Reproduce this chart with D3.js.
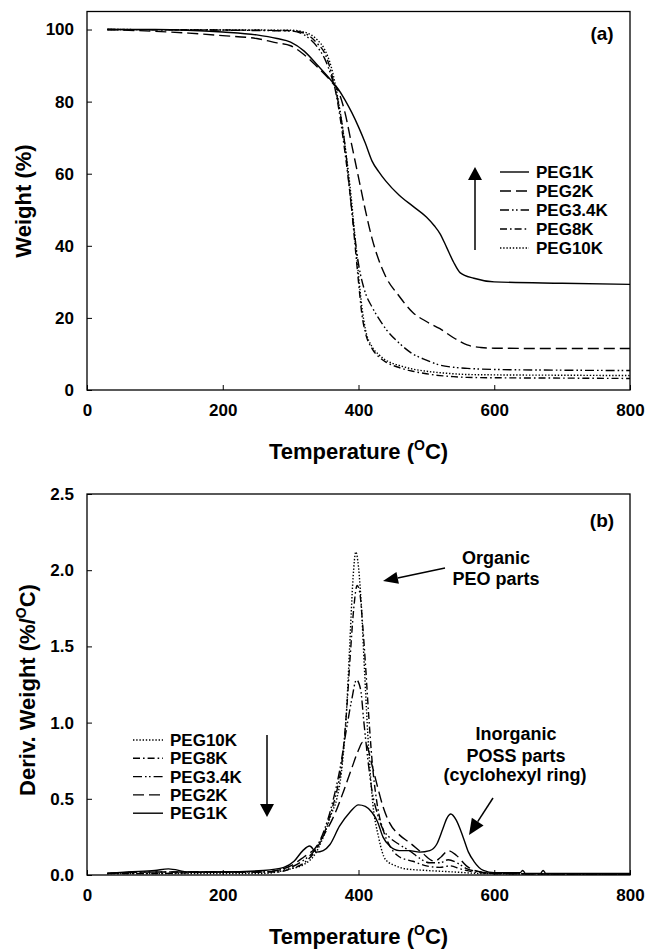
<!DOCTYPE html>
<html>
<head>
<meta charset="utf-8">
<script src="https://cdn.jsdelivr.net/npm/d3@7"></script>
<style>
  html, body { margin: 0; padding: 0; background: #fff; }
  svg { display: block; }
  text { font-family: "Liberation Sans", Arial, sans-serif; font-weight: bold; fill: #000; }
</style>
</head>
<body>
<svg id="chart" width="647" height="950"></svg>
<script>
// ---------------- DATA ----------------
const seriesNames = ["PEG1K", "PEG2K", "PEG3.4K", "PEG8K", "PEG10K"];

// (a) TGA: [temperature °C, weight %]
const tgaPEG1K = [[30,100],[100,100],[200,99.3],[250,98.5],[280,97.5],[300,96.5],[320,94],[340,90],[360,85.8],[370,83.5],[380,80.5],[390,77],[400,73],[410,68.5],[420,63.5],[430,60.5],[440,58],[460,54],[480,51],[500,48],[512,45.5],[520,43.4],[530,39.5],[540,35.5],[550,32.5],[570,31],[600,30],[700,29.6],[800,29.3]];
const tgaPEG2K = [[30,100],[100,99.5],[150,99],[200,98.3],[250,97.5],[280,96.3],[300,95.5],[320,93],[340,89.5],[360,85.5],[370,83],[380,77],[390,68],[400,59],[410,50],[420,42],[430,36],[440,31.5],[460,26],[480,21.5],[500,19],[520,17],[540,14.5],[560,12.5],[580,11.8],[600,11.6],[700,11.5],[800,11.5]];
const tgaPEG34K = [[30,100],[300,99.6],[320,98.5],[340,95],[350,92],[360,87],[370,80],[380,68],[390,50],[400,35],[410,27],[420,23],[430,19.8],[440,17],[460,13],[480,10],[500,8.3],[520,6.9],[540,6.3],[560,6],[600,5.7],[700,5.5],[800,5.4]];
const tgaPEG8K = [[30,100],[300,99.7],[320,99],[340,96],[350,93.5],[360,88],[370,79],[380,66],[390,50],[395,40],[400,30],[405,21],[410,16],[420,11.5],[430,9.2],[440,7.8],[460,6.2],[480,5.2],[500,4.5],[520,4.0],[540,3.7],[560,3.5],[600,3.4],[700,3.3],[800,3.2]];
const tgaPEG10K = [[30,100],[300,99.8],[320,99.3],[340,97],[350,94.5],[360,89.5],[370,80.5],[380,68],[390,52],[395,42],[400,32],[405,23],[410,17],[420,12],[430,9.8],[440,8.3],[460,6.8],[480,5.8],[500,5.2],[520,4.8],[540,4.5],[560,4.3],[600,4.2],[700,4.1],[800,4.0]];

// (b) DTG: [temperature °C, deriv. weight %/°C]
const dtgPEG10K = [[30,0.01],[100,0.01],[200,0.01],[260,0.01],[280,0.02],[300,0.04],[320,0.07],[335,0.13],[350,0.27],[360,0.4],[368,0.5],[375,0.68],[382,1.05],[387,1.5],[392,1.95],[396,2.12],[400,2.02],[404,1.78],[409,1.33],[414,0.9],[420,0.52],[430,0.24],[440,0.1],[455,0.06],[470,0.04],[500,0.03],[540,0.02],[580,0.01],[800,0.005]];
const dtgPEG8K = [[30,0.01],[100,0.01],[200,0.02],[260,0.02],[280,0.02],[300,0.04],[320,0.08],[335,0.15],[350,0.28],[360,0.42],[368,0.55],[375,0.72],[382,1.05],[388,1.45],[393,1.75],[398,1.9],[402,1.85],[406,1.65],[410,1.4],[415,1.05],[420,0.75],[428,0.45],[436,0.3],[445,0.2],[460,0.12],[480,0.09],[500,0.06],[520,0.05],[535,0.06],[550,0.04],[570,0.02],[600,0.01],[800,0.005]];
const dtgPEG34K = [[30,0.01],[100,0.02],[200,0.02],[260,0.02],[280,0.03],[300,0.05],[320,0.1],[335,0.16],[350,0.3],[362,0.48],[372,0.68],[382,0.95],[390,1.15],[397,1.28],[403,1.22],[408,1.0],[414,0.75],[420,0.55],[428,0.4],[436,0.3],[445,0.25],[460,0.2],[475,0.16],[490,0.11],[505,0.08],[520,0.08],[532,0.1],[545,0.08],[560,0.04],[580,0.02],[600,0.01],[800,0.005]];
const dtgPEG2K = [[30,0.01],[100,0.02],[200,0.02],[260,0.02],[280,0.03],[300,0.06],[320,0.12],[335,0.17],[350,0.27],[365,0.4],[378,0.55],[390,0.7],[400,0.82],[406,0.87],[412,0.85],[420,0.72],[428,0.58],[436,0.45],[446,0.34],[461,0.26],[476,0.21],[495,0.14],[512,0.09],[522,0.12],[532,0.16],[544,0.13],[559,0.06],[580,0.02],[600,0.01],[800,0.005]];
const dtgPEG1K = [[30,0.01],[60,0.02],[100,0.03],[120,0.04],[150,0.02],[200,0.02],[260,0.03],[290,0.05],[305,0.09],[318,0.16],[328,0.19],[338,0.15],[348,0.16],[358,0.2],[372,0.32],[387,0.41],[400,0.46],[410,0.45],[420,0.41],[428,0.35],[436,0.25],[446,0.19],[460,0.16],[475,0.16],[490,0.15],[505,0.16],[515,0.2],[524,0.3],[530,0.37],[536,0.4],[544,0.36],[554,0.25],[562,0.15],[570,0.09],[584,0.03],[600,0.015],[638,0.015],[642,0.03],[646,0.01],[668,0.01],[672,0.03],[676,0.01],[700,0.01],[800,0.01]];

const xTicks = [0, 200, 400, 600, 800];
const yTicksA = [0, 20, 40, 60, 80, 100];
const yTicksB = [0, 0.5, 1.0, 1.5, 2.0, 2.5];

const legendA = ["PEG1K", "PEG2K", "PEG3.4K", "PEG8K", "PEG10K"];
const legendB = ["PEG10K", "PEG8K", "PEG3.4K", "PEG2K", "PEG1K"];

// ---------------- STYLE ----------------
const dashes = {
  "PEG1K": null,
  "PEG2K": "11,5",
  "PEG3.4K": "9,3,1.6,2.4,1.6,3",
  "PEG8K": "7,3,1.6,3",
  "PEG10K": "1.4,1.8"
};

const svg = d3.select("#chart");
const X0 = 87, X1 = 630;

function panel(cfg) {
  const x = d3.scaleLinear().domain([0, 800]).range([X0, X1]);
  const y = d3.scaleLinear().domain(cfg.yDomain).range(cfg.yRange);
  const g = svg.append("g");

  // series
  const line = d3.line().x(d => x(d[0])).y(d => y(d[1])).curve(d3.curveMonotoneX);
  cfg.series.forEach(s => {
    g.append("path")
      .attr("d", line(s.data))
      .attr("fill", "none")
      .attr("stroke", "#000")
      .attr("stroke-width", 1.4)
      .attr("stroke-dasharray", dashes[s.name]);
  });

  // frame
  g.append("rect")
    .attr("x", X0).attr("y", y(cfg.yDomain[1]))
    .attr("width", X1 - X0).attr("height", y(cfg.yDomain[0]) - y(cfg.yDomain[1]))
    .attr("fill", "none").attr("stroke", "#000").attr("stroke-width", 1.3);

  // axes (inward ticks)
  const xa = g.append("g").attr("transform", `translate(0,${y(cfg.yDomain[0])})`)
    .call(d3.axisBottom(x).tickValues(xTicks).tickSizeInner(-5).tickSizeOuter(0).tickPadding(14));
  const ya = g.append("g").attr("transform", `translate(${X0},0)`)
    .call(d3.axisLeft(y).tickValues(cfg.yTicks).tickFormat(cfg.yFormat).tickSizeInner(-5).tickSizeOuter(0).tickPadding(13));
  [xa, ya].forEach(a => {
    a.select(".domain").remove();
    a.selectAll("line").attr("stroke", "#000").attr("stroke-width", 1);
    a.selectAll("text").style("font-size", "17px").style("font-family", "Liberation Sans, Arial, sans-serif").style("font-weight", "bold").attr("fill", "#000");
  });

  // x title
  const xt = g.append("text")
    .attr("x", (X0 + X1) / 2).attr("y", y(cfg.yDomain[0]) + 69)
    .attr("text-anchor", "middle").style("font-size", "22px");
  xt.append("tspan").text("Temperature (");
  xt.append("tspan").text("O").style("font-size", "14px").attr("dy", -9);
  xt.append("tspan").text("C)").attr("dy", 9);

  // y title
  const yt = g.append("text")
    .attr("transform", `translate(${cfg.yTitleX},${cfg.yTitleY}) rotate(-90)`)
    .attr("text-anchor", "middle").style("font-size", "22px");
  yt.append("tspan").text(cfg.yTitle);
  if (cfg.yTitleSup) {
    yt.append("tspan").text("O").style("font-size", "14px").attr("dy", -9);
    yt.append("tspan").text("C)").attr("dy", 9);
  }

  // panel label
  g.append("text").attr("x", 602).attr("y", cfg.labelY)
    .attr("text-anchor", "middle").style("font-size", "19px").text(cfg.label);

  // legend
  cfg.legend.forEach((name, i) => {
    const cy = cfg.legY0 + i * cfg.legDy;
    g.append("line")
      .attr("x1", cfg.legX1).attr("x2", cfg.legX2).attr("y1", cy).attr("y2", cy)
      .attr("stroke", "#000").attr("stroke-width", 1.4)
      .attr("stroke-dasharray", dashes[name]);
    g.append("text").attr("x", cfg.legTX).attr("y", cy + 6)
      .style("font-size", "17px").text(name);
  });
  return { g, x, y };
}

function arrow(g, x1, y1, x2, y2, headLen, headW) {
  const ang = Math.atan2(y2 - y1, x2 - x1);
  const bx = x2 - headLen * Math.cos(ang), by = y2 - headLen * Math.sin(ang);
  g.append("line").attr("x1", x1).attr("y1", y1).attr("x2", bx).attr("y2", by)
    .attr("stroke", "#000").attr("stroke-width", 1.5);
  const px = -Math.sin(ang) * headW / 2, py = Math.cos(ang) * headW / 2;
  g.append("path")
    .attr("d", `M${x2},${y2} L${bx + px},${by + py} L${bx - px},${by - py} Z`)
    .attr("fill", "#000");
}

// ---------- Panel (a) ----------
const tgaMap = { "PEG1K": tgaPEG1K, "PEG2K": tgaPEG2K, "PEG3.4K": tgaPEG34K, "PEG8K": tgaPEG8K, "PEG10K": tgaPEG10K };
const A = panel({
  yDomain: [0, 105], yRange: [390, 11.5], yTicks: yTicksA, yFormat: d3.format("d"),
  series: seriesNames.map(n => ({ name: n, data: tgaMap[n] })),
  yTitle: "Weight (%)", yTitleX: 31, yTitleY: 201, yTitleSup: false,
  label: "(a)", labelY: 40,
  legend: legendA, legY0: 172, legDy: 19, legX1: 500, legX2: 529, legTX: 536
});
arrow(A.g, 475, 250, 475, 167, 13, 14);

// ---------- Panel (b) ----------
const dtgMap = { "PEG1K": dtgPEG1K, "PEG2K": dtgPEG2K, "PEG3.4K": dtgPEG34K, "PEG8K": dtgPEG8K, "PEG10K": dtgPEG10K };
const B = panel({
  yDomain: [0, 2.5], yRange: [875, 494], yTicks: yTicksB, yFormat: d3.format(".1f"),
  series: seriesNames.map(n => ({ name: n, data: dtgMap[n] })),
  yTitle: "Deriv. Weight (%/", yTitleX: 35, yTitleY: 690, yTitleSup: true,
  label: "(b)", labelY: 527,
  legend: legendB, legY0: 740, legDy: 18.3, legX1: 133, legX2: 163, legTX: 170
});
arrow(B.g, 267, 735, 267, 817, 13, 14);

// annotations
B.g.append("text").attr("x", 496).attr("y", 564).attr("text-anchor", "middle").style("font-size", "18px").text("Organic");
B.g.append("text").attr("x", 496).attr("y", 585).attr("text-anchor", "middle").style("font-size", "18px").text("PEO parts");
arrow(B.g, 445, 568, 383, 581, 15, 12);

B.g.append("text").attr("x", 516).attr("y", 740).attr("text-anchor", "middle").style("font-size", "18px").text("Inorganic");
B.g.append("text").attr("x", 516).attr("y", 762).attr("text-anchor", "middle").style("font-size", "18px").text("POSS parts");
B.g.append("text").attr("x", 515).attr("y", 781).attr("text-anchor", "middle").style("font-size", "18px").text("(cyclohexyl ring)");
arrow(B.g, 493, 798, 469, 835, 16, 14);
</script>
</body>
</html>
